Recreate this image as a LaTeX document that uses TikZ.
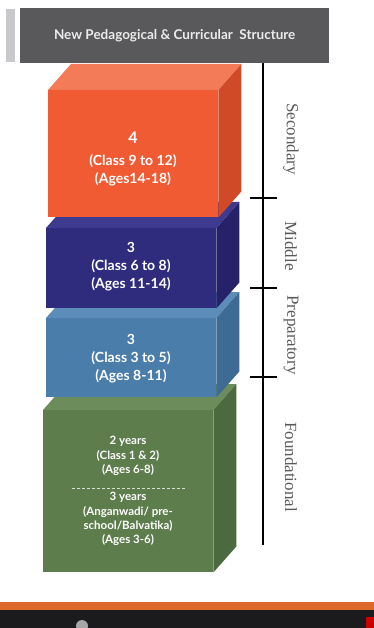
\documentclass[tikz,border=0pt]{standalone}
\usepackage{fontspec}
\setmainfont{Liberation Serif}
\newfontfamily\gillsans{Lato}
\usetikzlibrary{positioning,calc}

\definecolor{hdrgrey}{HTML}{59595B}
\definecolor{stripgrey}{HTML}{C9C9CB}
\definecolor{labelgrey}{HTML}{5A5A5A}
\definecolor{secfront}{HTML}{F15B33}
\definecolor{sectop}{HTML}{F47B58}
\definecolor{secside}{HTML}{D04A27}
\definecolor{midfront}{HTML}{2F2B7D}
\definecolor{midtop}{HTML}{3E3A90}
\definecolor{midside}{HTML}{25226A}
\definecolor{prepfront}{HTML}{4A7DAA}
\definecolor{preptop}{HTML}{5B8DB8}
\definecolor{prepside}{HTML}{3D6B94}
\definecolor{foundfront}{HTML}{5E7D4D}
\definecolor{foundtop}{HTML}{6D8C5B}
\definecolor{foundside}{HTML}{4C6A3F}
\definecolor{playerorange}{HTML}{DD6A2A}
\definecolor{playerdark}{HTML}{1B1B1D}

% top and right faces of a block drawn from its front node
\newcommand{\cubeFaces}[3]{%
  \fill[#2] (#1.north west) -- ++(23,-26) -- ($(#1.north east)+(23,-26)$) -- (#1.north east) -- cycle;
  \fill[#3] (#1.north east) -- ++(23,-26) -- ($(#1.south east)+(23,-26)$) -- (#1.south east) -- cycle;
}

\begin{document}
\begin{tikzpicture}[x=1pt,y=-1pt,
  every node/.style={inner sep=0pt},
  front/.style={anchor=north west, minimum width=170pt},
  boxtext/.style={text=white, align=center, font=\gillsans\bfseries\fontsize{14}{18}\selectfont},
  smalltext/.style={text=white, align=center, font=\gillsans\bfseries\fontsize{11.5}{14.2}\selectfont},
  stage/.style={rotate=-90, text=labelgrey, font=\fontsize{17}{19}\selectfont},
  axis/.style={line width=1.8pt, black},
  tick/.style={line width=1.6pt, black}
]
\useasboundingbox (0,0) rectangle (374,628);
\fill[white] (0,0) rectangle (374,628);

% Header
\fill[stripgrey] (6,9) rectangle (15,62);
\node[fill=hdrgrey, minimum width=309pt, minimum height=55pt, anchor=north west,
  text=white!92!black, font=\gillsans\bfseries\fontsize{13.5}{15}\selectfont]
  (header) at (20,8) {New Pedagogical \& Curricular\ \ Structure};

% Blocks, from the bottom up
\node[front, fill=foundfront, minimum height=162pt] (found) at (43,410) {};
\cubeFaces{found}{foundtop}{foundside}
\node[front, fill=prepfront, minimum height=79pt] (prep) at (46,318) {};
\cubeFaces{prep}{preptop}{prepside}
\node[front, fill=midfront, minimum height=80pt] (mid) at (46,228) {};
\cubeFaces{mid}{midtop}{midside}
\node[front, fill=secfront, minimum height=127pt] (sec) at (48,90) {};
\cubeFaces{sec}{sectop}{secside}

% Block texts
\node[boxtext] (sectxt) at (133,159) {{\fontsize{16}{18}\selectfont 4}\\[4pt](Class 9 to 12)\\(Ages14-18)};
\node[boxtext] (midtxt) at (131,267) {3\\(Class 6 to 8)\\(Ages 11-14)};
\node[boxtext] (preptxt) at (131,359) {3\\(Class 3 to 5)\\(Ages 8-11)};
\node[smalltext] (foundup) at (128,456) {2 years\\(Class 1 \& 2)\\(Ages 6-8)};
\coordinate (divl) at (72,488);
\coordinate (divr) at (185,488);
\draw[white!75!foundfront, densely dashed, line width=0.6pt] (divl) -- (divr);
\node[smalltext] (founddown) at (128,519) {3 years\\(Anganwadi/ pre-\\school/Balvatika)\\(Ages 3-6)};

% Stage axis
\coordinate (axtop) at (263,63);
\coordinate (axbot) at (263,545);
\draw[axis] (axtop) -- (axbot);
\foreach \y in {198,288,377}
  \draw[tick] (250,\y) -- (277,\y);

\node[stage] (secondary) at (291,139) {Secondary};
\node[stage] (middle) at (291,246) {Middle};
\node[stage] (preparatory) at (291,335) {Preparatory};
\node[stage] (foundational) at (291,467) {Foundational};

% Video player bar
\fill[playerorange] (0,602) rectangle (374,610);
\fill[playerdark] (0,610) rectangle (374,628);
\fill[gray!70] (82,626) circle (6);
\fill[red!80!black] (366,617) rectangle (374,628);
\end{tikzpicture}
\end{document}
